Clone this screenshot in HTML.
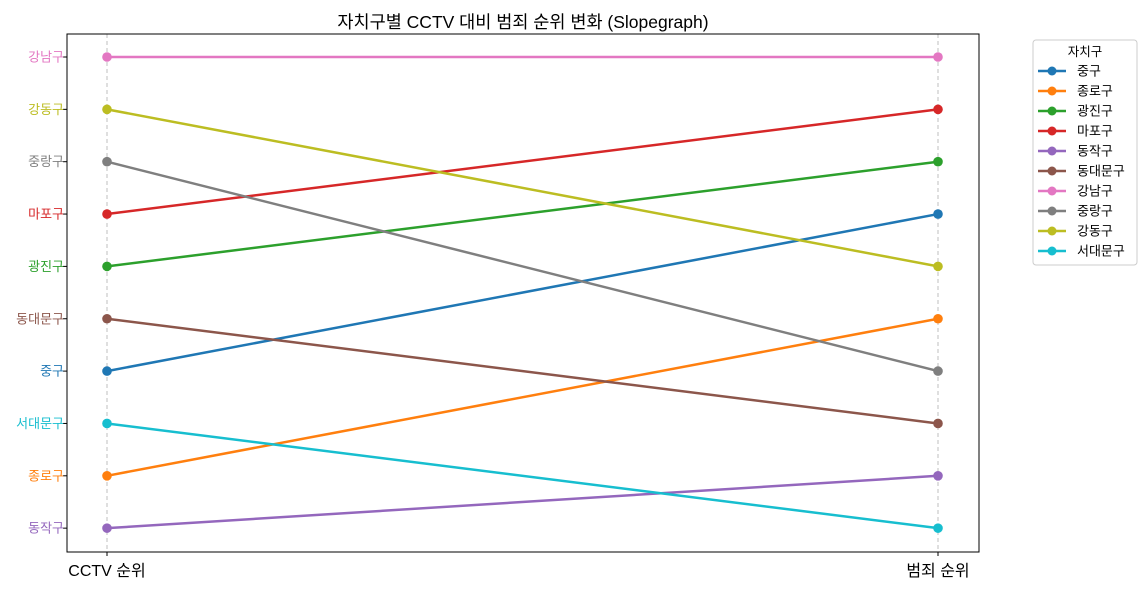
<!DOCTYPE html>
<html><head><meta charset="utf-8">
<style>
body{margin:0;background:#fff;width:1147px;height:589px;overflow:hidden;font-family:"Liberation Sans","Noto Sans CJK KR",sans-serif;}
text{font-family:"Liberation Sans","Noto Sans CJK KR",sans-serif;}
</style></head><body>
<svg id="chart" width="1147" height="589" xmlns="http://www.w3.org/2000/svg">
<text x="523" y="28" text-anchor="middle" font-size="17.5" fill="#000">자치구별 CCTV 대비 범죄 순위 변화 (Slopegraph)</text>
<g id="grid"></g>
<g id="series"></g>
<rect x="67" y="34" width="912" height="518" fill="none" stroke="#000" stroke-width="1"/>
<g id="yticks"></g>
<g id="xticks"></g>
<g id="legend">
<rect x="1033" y="40" width="104" height="225" rx="3" fill="#fff" stroke="#ccc"/>
<text x="1085" y="56" text-anchor="middle" font-size="12.5" fill="#000">자치구</text>
</g>
</svg>
<script>
const districts=["중구","종로구","광진구","마포구","동작구","동대문구","강남구","중랑구","강동구","서대문구"];
const cctvRank=[7,9,5,4,10,6,1,3,2,8];
const crimeRank=[4,6,3,2,9,8,1,7,5,10];
const xLabels=["CCTV 순위","범죄 순위"];
const colors=["#1f77b4","#ff7f0e","#2ca02c","#d62728","#9467bd","#8c564b","#e377c2","#7f7f7f","#bcbd22","#17becf"];
const NS="http://www.w3.org/2000/svg";
function X(v){return 107+v*831;}
function Y(r){return 57+(r-1)*52.35;}
function mk(tag,attrs,parent){const e=document.createElementNS(NS,tag);for(const k in attrs)e.setAttribute(k,attrs[k]);parent.appendChild(e);return e;}
const grid=document.getElementById('grid'),ser=document.getElementById('series'),yt=document.getElementById('yticks'),xt=document.getElementById('xticks'),lg=document.getElementById('legend');
[0,1].forEach(i=>{
 const l=mk('line',{x1:X(i),x2:X(i),y1:34,y2:552,stroke:'#b0b0b0','stroke-dasharray':'4,3','stroke-width':0.8},grid);
 
 
 const tk=mk('line',{x1:X(i),x2:X(i),y1:552,y2:556,stroke:'#000'},xt);
 
 
 const t=mk('text',{x:X(i),y:576,'text-anchor':'middle','font-size':16,fill:'#000'},xt);
 t.textContent=xLabels[i];
 
 
});
districts.forEach((d,i)=>{
 const g=mk('g',{},ser);
 
 
 const ln=mk('line',{x1:X(0),y1:Y(cctvRank[i]),x2:X(1),y2:Y(crimeRank[i]),stroke:colors[i],'stroke-width':2.5},g);
 
 
 [[0,cctvRank[i]],[1,crimeRank[i]]].forEach(p=>{
  const c=mk('circle',{cx:X(p[0]),cy:Y(p[1]),r:4.8,fill:colors[i]},g);
  
  
 });
 const tk=mk('line',{x1:63,x2:67,y1:Y(cctvRank[i]),y2:Y(cctvRank[i]),stroke:'#000'},yt);
 
 
 const t=mk('text',{x:64,y:Y(cctvRank[i])+4.5,'text-anchor':'end','font-size':13,fill:colors[i]},yt);
 t.textContent=d;
 
 
 const ly=71+i*20;
 const e=mk('g',{},lg);
 
 
 mk('line',{x1:1038,x2:1066,y1:ly,y2:ly,stroke:colors[i],'stroke-width':2.5},e);
 mk('circle',{cx:1052,cy:ly,r:4.5,fill:colors[i]},e);
 const lt=mk('text',{x:1077,y:ly+4.5,'font-size':13,fill:'#000'},e);
 lt.textContent=d;
});
</script>
</body></html>
